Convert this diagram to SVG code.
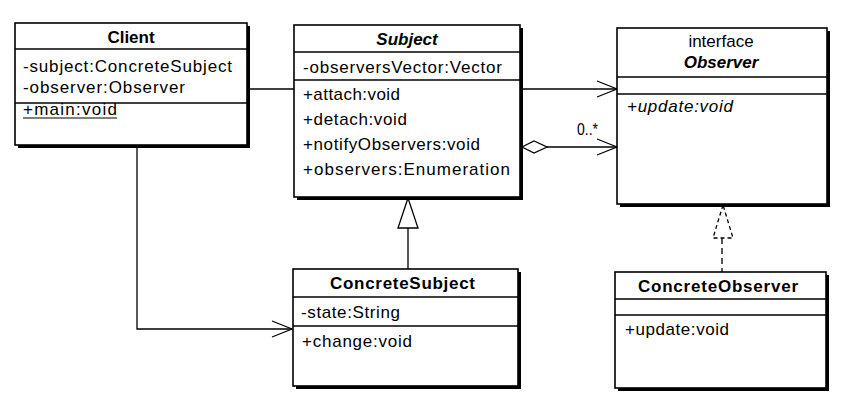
<svg xmlns="http://www.w3.org/2000/svg" width="862" height="411" viewBox="0 0 862 411">
<style>
.box{fill:#fff;stroke:#000;stroke-width:1.6}
.sh{fill:#000}
.div{stroke:#000;stroke-width:1.4}
.t{font-family:"Liberation Sans",Arial,sans-serif;font-size:17px;fill:#000}
.b{font-weight:bold}
.i{font-style:italic}
.c{text-anchor:middle}
.ln{fill:none;stroke:#000;stroke-width:1.3}
</style>
<defs>
<marker id="open" viewBox="0 0 22 18" refX="21" refY="9" markerWidth="22" markerHeight="18" markerUnits="userSpaceOnUse" orient="auto">
<path d="M1,1 L21,9 L1,17" fill="none" stroke="#000" stroke-width="1.3"/>
</marker>
</defs>
<rect width="862" height="411" fill="#fff"/>
<g id="connectors">
<line class="ln" x1="248" y1="89" x2="617" y2="89" marker-end="url(#open)"/>
<path class="ln" d="M137,147 V329 H292" marker-end="url(#open)"/>
<line class="ln" x1="547" y1="147" x2="617" y2="147" marker-end="url(#open)"/>
<path d="M522,147 L534,141 L547,147 L534,153 Z" fill="#fff" stroke="#000" stroke-width="1.3"/>
<line class="ln" x1="408" y1="228" x2="408" y2="269"/>
<path d="M408,198 L398,228 L418,228 Z" fill="#fff" stroke="#000" stroke-width="1.3"/>
<line class="ln" x1="722" y1="238" x2="722" y2="272" stroke-dasharray="6,4"/>
<path d="M723,205 L713,238 L733,238 Z" fill="#fff" stroke="#000" stroke-width="1.3" stroke-dasharray="4,3"/>
<text class="t" x="577" y="135" textLength="21" lengthAdjust="spacingAndGlyphs">0..*</text>
</g>
<g id="Client">
<rect class="sh" x="18" y="26" width="232" height="122"/>
<rect class="box" x="15" y="23" width="232" height="122"/>
<line class="div" x1="15" y1="49" x2="247" y2="49"/>
<line class="div" x1="15" y1="103" x2="247" y2="103"/>
<text class="t b c" x="131" y="43">Client</text>
<text class="t" x="23" y="72" textLength="209" lengthAdjust="spacing">-subject:ConcreteSubject</text>
<text class="t" x="23" y="93" textLength="162" lengthAdjust="spacing">-observer:Observer</text>
<text class="t" x="23" y="115" textLength="94" lengthAdjust="spacing">+main:void</text>
<line x1="23" y1="118" x2="117" y2="118" stroke="#000" stroke-width="1.2"/>
</g>
<g id="Subject">
<rect class="sh" x="297" y="28" width="226" height="172"/>
<rect class="box" x="294" y="25" width="226" height="172"/>
<line class="div" x1="294" y1="52" x2="520" y2="52"/>
<line class="div" x1="294" y1="80" x2="520" y2="80"/>
<text class="t b i c" x="407" y="45">Subject</text>
<text class="t" x="303" y="73" textLength="199" lengthAdjust="spacing">-observersVector:Vector</text>
<text class="t" x="303" y="100" textLength="97" lengthAdjust="spacing">+attach:void</text>
<text class="t" x="303" y="125" textLength="104" lengthAdjust="spacing">+detach:void</text>
<text class="t" x="303" y="150" textLength="177" lengthAdjust="spacing">+notifyObservers:void</text>
<text class="t" x="303" y="175" textLength="207" lengthAdjust="spacing">+observers:Enumeration</text>
</g>
<g id="Observer">
<rect class="sh" x="620" y="31" width="210" height="176"/>
<rect class="box" x="617" y="28" width="210" height="176"/>
<line class="div" x1="617" y1="77" x2="827" y2="77"/>
<line class="div" x1="617" y1="94" x2="827" y2="94"/>
<text class="t c" x="721" y="47">interface</text>
<text class="t b i c" x="721" y="68">Observer</text>
<text class="t i" x="627" y="112" textLength="106" lengthAdjust="spacing">+update:void</text>
</g>
<g id="ConcreteSubject">
<rect class="sh" x="296" y="272" width="225" height="117"/>
<rect class="box" x="293" y="269" width="225" height="117"/>
<line class="div" x1="293" y1="297" x2="518" y2="297"/>
<line class="div" x1="293" y1="326" x2="518" y2="326"/>
<text class="t b c" x="402.5" y="289" textLength="145" lengthAdjust="spacing">ConcreteSubject</text>
<text class="t" x="301" y="318" textLength="99" lengthAdjust="spacing">-state:String</text>
<text class="t" x="302" y="347" textLength="110" lengthAdjust="spacing">+change:void</text>
</g>
<g id="ConcreteObserver">
<rect class="sh" x="618" y="275" width="211" height="116"/>
<rect class="box" x="615" y="272" width="211" height="116"/>
<line class="div" x1="615" y1="299" x2="826" y2="299"/>
<line class="div" x1="615" y1="315" x2="826" y2="315"/>
<text class="t b c" x="718" y="292" textLength="160" lengthAdjust="spacing">ConcreteObserver</text>
<text class="t" x="625" y="335" textLength="104" lengthAdjust="spacing">+update:void</text>
</g>
</svg>
